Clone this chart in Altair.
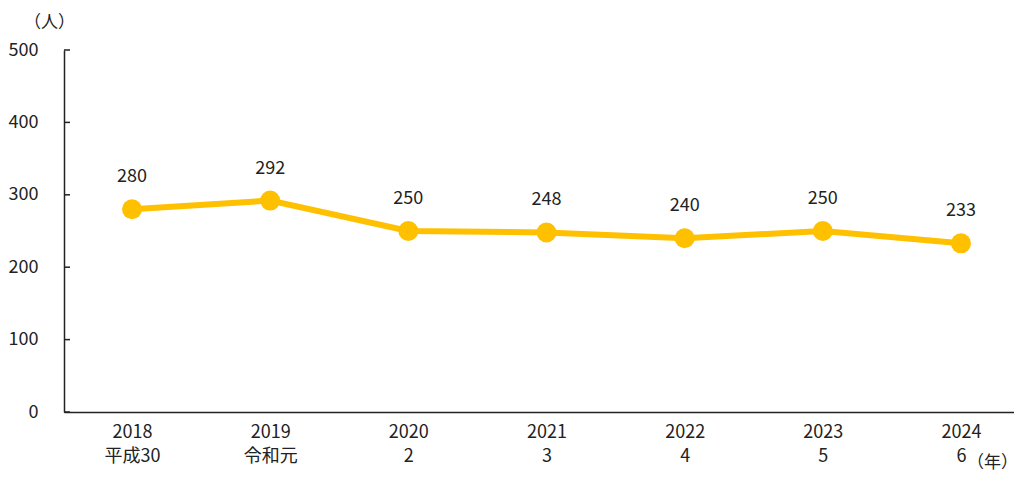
import altair as alt
import pandas as pd

years = ["2018\n平成30", "2019\n令和元", "2020\n2", "2021\n3", "2022\n4", "2023\n5", "2024\n6"]
values = [280, 292, 250, 248, 240, 250, 233]
y_ticks = [0, 100, 200, 300, 400, 500]

df = pd.DataFrame({"year": years, "value": values})
ticks_df = pd.DataFrame({"value": y_ticks})

FONT = "Noto Sans CJK JP"
GOLD = "#FFC000"
INK = "#222222"

xs = alt.X("year:N", sort=years,
           scale=alt.Scale(type="point", padding=0.438, align=0.562),
           axis=alt.Axis(title="（年）", titleX=928, titleY=50, titleAlign="center",
                         titleBaseline="middle", titleFontSize=17, titleFontWeight="normal",
                         titleFont=FONT, titleColor=INK,
                         labelAngle=0, labelExpr="split(datum.label, '\\n')",
                         labelLineHeight=24, labelFontSize=18, labelFont=FONT,
                         labelColor=INK, labelPadding=11, labelBaseline="top",
                         ticks=False, domainColor=INK, domainWidth=1.5, grid=False))
ys = alt.Y("value:Q",
           scale=alt.Scale(domain=[0, 500], nice=False),
           axis=alt.Axis(values=y_ticks, title="（人）", titleAngle=0, titleX=-15, titleY=-28,
                         titleAlign="center", titleBaseline="middle", titleFontSize=17,
                         titleFontWeight="normal", titleFont=FONT, titleColor=INK,
                         labelFontSize=18, labelFont=FONT, labelColor=INK,
                         labelPadding=26, ticks=False, domainColor=INK,
                         domainWidth=1.5, grid=False))

base = alt.Chart(df)
line = base.mark_line(color=GOLD, strokeWidth=6).encode(x=xs, y=ys)
pts = base.mark_circle(color=GOLD, size=400, opacity=1).encode(x=xs, y=ys)
labels = base.mark_text(font=FONT, fontSize=18, color=INK, dy=-32).encode(
    x=xs, y=ys, text="value:Q")
yticks = alt.Chart(ticks_df).mark_rule(color=INK, strokeWidth=1.5).encode(
    y=ys, x=alt.value(0), x2=alt.value(6))

chart = alt.layer(line, pts, labels, yticks).properties(
    width=950, height=362,
    autosize=alt.AutoSizeParams(type="none"),
    padding={"left": 56, "top": 42, "right": 0, "bottom": 64},
).configure(background="white", view=alt.ViewConfig(stroke=None))

chart.save("out.html", embed_options={"renderer": "svg", "actions": False})
